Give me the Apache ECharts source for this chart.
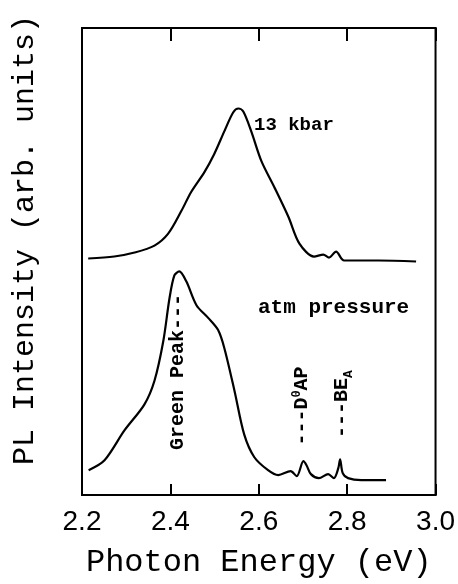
<!DOCTYPE html>
<html>
<head>
<meta charset="utf-8">
<script src="https://cdn.jsdelivr.net/npm/echarts@6/dist/echarts.min.js"></script>
<style>html,body{margin:0;padding:0;background:#fff;}#c{width:458px;height:584px;}</style>
</head>
<body>
<div id="c"></div>
<script>
// x tick labels
const xTicks = [2.2, 2.4, 2.6, 2.8, 3.0];
// 13 kbar spectrum
const energyHigh = [2.214, 2.273, 2.319, 2.364, 2.395, 2.425, 2.447, 2.477, 2.499, 2.522, 2.542, 2.554, 2.565, 2.583, 2.606, 2.635, 2.667, 2.692, 2.725, 2.746, 2.759, 2.775, 2.793, 2.872, 2.956];
const intensityHigh = [238, 240, 244, 251, 263, 286, 305, 325, 343, 366, 385, 389, 386, 366, 336, 310, 280, 253, 240, 242, 239, 245, 236, 236, 235];
// atm pressure spectrum
const energyAtm = [2.215, 2.251, 2.296, 2.341, 2.364, 2.384, 2.398, 2.409, 2.420, 2.436, 2.459, 2.486, 2.508, 2.522, 2.545, 2.567, 2.590, 2.621, 2.644, 2.672, 2.686, 2.701, 2.708, 2.718, 2.736, 2.757, 2.770, 2.780, 2.784, 2.790, 2.802, 2.832, 2.888];
const intensityAtm = [25, 35, 65, 91, 115, 155, 198, 221, 225, 215, 191, 178, 166, 148, 105, 61, 38, 25, 20, 24, 19, 34, 30, 21, 17, 21, 17, 27, 36, 22, 17, 15, 15];
// texts
const xName = 'Photon Energy (eV)';
const yName = 'PL Intensity (arb. units)';
const labelHigh = '13 kbar';
const labelAtm = 'atm pressure';

const pair = (xs, ys) => xs.map((x, i) => [x, ys[i]]);
const chart = echarts.init(document.getElementById('c'));
const mono = '"Liberation Mono", "DejaVu Sans Mono", monospace';
chart.setOption({
  animation: false,
  backgroundColor: '#fff',
  grid: {left: 82, right: 22, top: 28, bottom: 86, show: true, borderColor: '#000', borderWidth: 2, backgroundColor: 'transparent'},
  xAxis: [{
    type: 'value', min: 2.2, max: 3.0, interval: 0.2, position: 'bottom',
    name: xName, nameLocation: 'middle', nameGap: 52,
    nameTextStyle: {fontFamily: mono, fontSize: 32, color: '#000'},
    axisLine: {show: true, lineStyle: {color: '#000', width: 2}},
    axisTick: {show: true, inside: true, length: 11, lineStyle: {color: '#000', width: 2}},
    axisLabel: {margin: 13, fontFamily: '"Liberation Sans", Arial, sans-serif', fontSize: 28, color: '#000',
      formatter: v => { const t = xTicks.find(x => Math.abs(x - v) < 1e-6); return t === undefined ? '' : t.toFixed(1); }},
    splitLine: {show: false}
  }, {
    type: 'value', min: 2.2, max: 3.0, interval: 0.2, position: 'top',
    axisLine: {show: true, lineStyle: {color: '#000', width: 2}},
    axisTick: {show: true, inside: true, length: 13, lineStyle: {color: '#000', width: 2}},
    axisLabel: {show: false}, splitLine: {show: false}
  }],
  yAxis: {
    type: 'value', min: 0, max: 470,
    axisLine: {show: true, lineStyle: {color: '#000', width: 2}},
    axisTick: {show: false}, axisLabel: {show: false}, splitLine: {show: false}
  },
  series: [{
    type: 'line', data: pair(energyHigh, intensityHigh), smooth: 0.3, symbol: 'none',
    lineStyle: {color: '#000', width: 2.2}
  }, {
    type: 'line', data: pair(energyAtm, intensityAtm), smooth: 0.3, symbol: 'none',
    lineStyle: {color: '#000', width: 2.2}
  }],
  graphic: [
    {type: 'text', x: 25, y: 240, rotation: Math.PI / 2, style: {text: yName, fontFamily: mono, fontSize: 30, fill: '#000', align: 'center', verticalAlign: 'middle'}},
    {type: 'text', left: 254, top: 116, style: {text: labelHigh, fontFamily: mono, fontWeight: 'bold', fontSize: 19, fill: '#000'}},
    {type: 'text', left: 258, top: 297, style: {text: labelAtm, fontFamily: mono, fontWeight: 'bold', fontSize: 21, fill: '#000'}},
    {type: 'text', x: 178, y: 372, rotation: Math.PI / 2, style: {text: 'Green Peak---', fontFamily: mono, fontWeight: 'bold', fontSize: 20, fill: '#000', align: 'center', verticalAlign: 'middle'}},
    {type: 'text', x: 302, y: 406, rotation: Math.PI / 2, style: {text: '---D{sup|0}AP', fontFamily: mono, fontWeight: 'bold', fontSize: 20, fill: '#000', align: 'center', verticalAlign: 'middle',
      rich: {sup: {fontFamily: mono, fontWeight: 'bold', fontSize: 12, fill: '#000', verticalAlign: 'top', padding: [0, 0, 10, 0]}}}},
    {type: 'text', x: 342, y: 404, rotation: Math.PI / 2, style: {text: '---BE{sub|A}', fontFamily: mono, fontWeight: 'bold', fontSize: 20, fill: '#000', align: 'center', verticalAlign: 'middle',
      rich: {sub: {fontFamily: mono, fontWeight: 'bold', fontSize: 13, fill: '#000', padding: [14, 0, 0, 0]}}}}
  ]
});
</script>
</body>
</html>
